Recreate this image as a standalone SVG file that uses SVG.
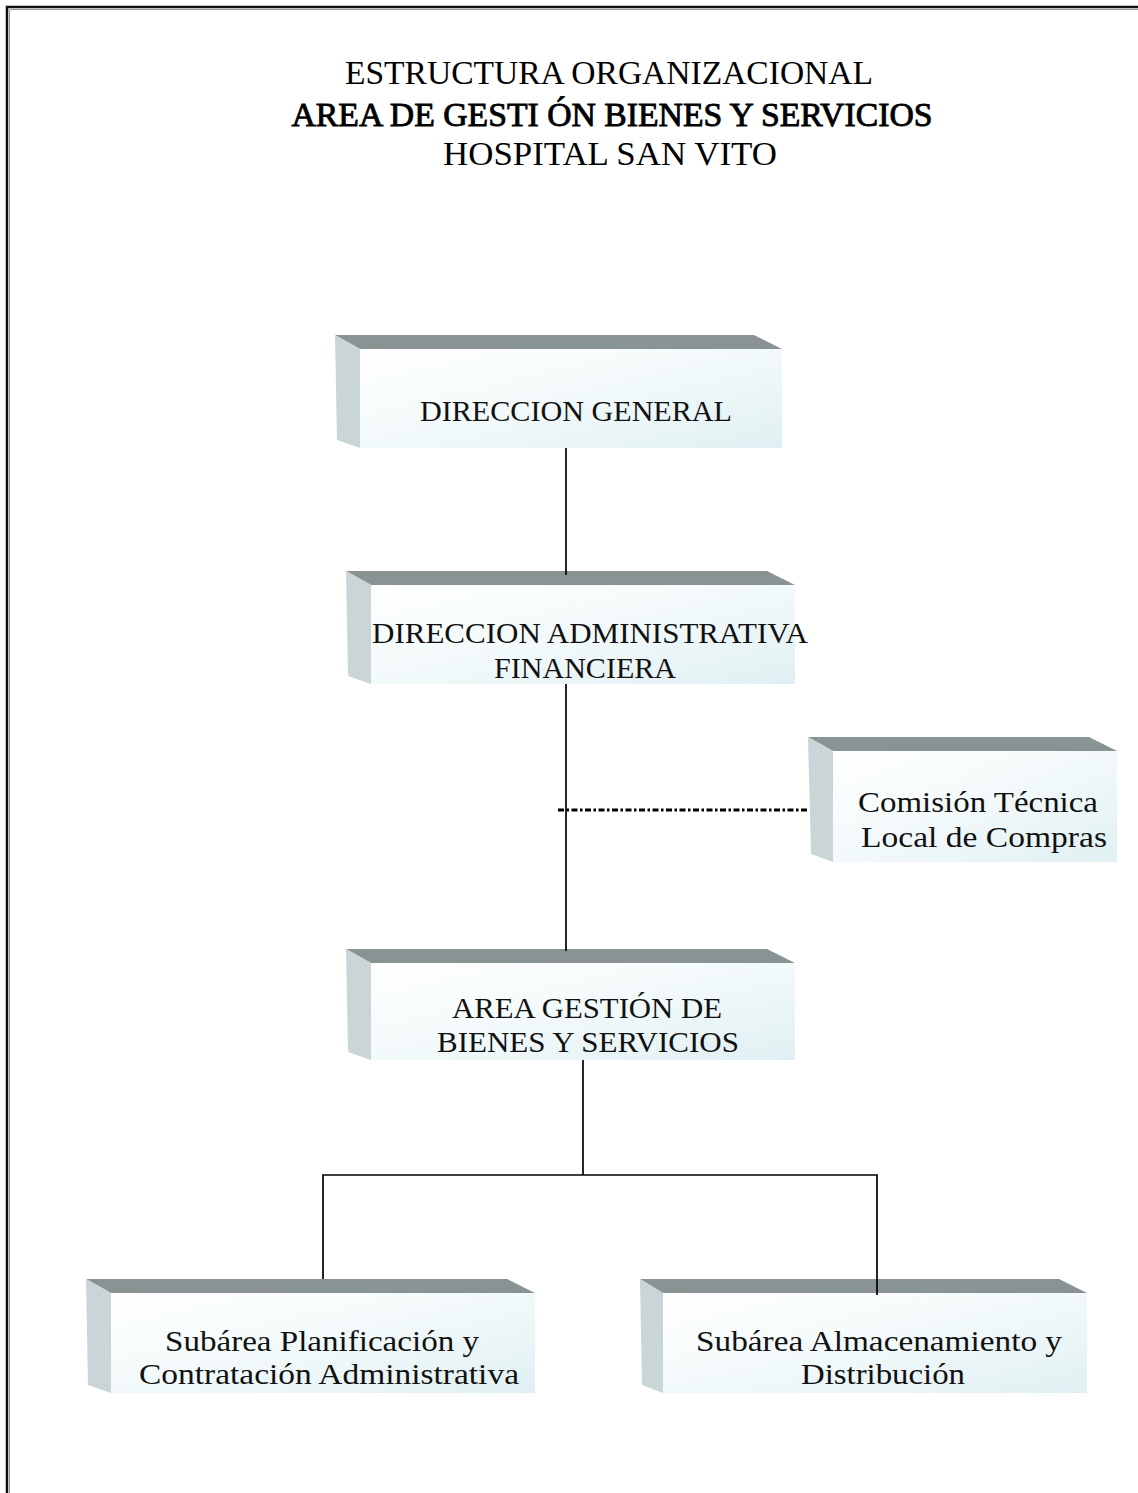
<svg xmlns="http://www.w3.org/2000/svg" width="1138" height="1493" viewBox="0 0 1138 1493">
<style>
.top{fill:#8a9393}
.side{fill:#c9d5d7}
.front{fill:url(#fg)}
.t{font-family:"Liberation Serif","Times New Roman",serif;font-size:30px;fill:#111;text-anchor:middle}
.h{font-family:"Liberation Serif","Times New Roman",serif;font-size:34px;fill:#000;text-anchor:middle}
.ln{stroke:#000;stroke-width:1.7;fill:none}
</style>
<defs>
<linearGradient id="fg" x1="0" y1="0" x2="1" y2="1">
<stop offset="0" stop-color="#ffffff"/>
<stop offset="0.45" stop-color="#f4fafb"/>
<stop offset="1" stop-color="#e0f0f2"/>
</linearGradient>
</defs>
<rect width="1138" height="1493" fill="#fff"/>
<g id="border">
<path d="M7,1493 V7 H1138" stroke="#111" stroke-width="2.5" fill="none"/>
<path d="M9.5,1493 V9.5 H1138" stroke="#999" stroke-width="1" fill="none"/>
</g>
<g id="title">
<text class="h" x="609" y="84" textLength="528" lengthAdjust="spacingAndGlyphs">ESTRUCTURA ORGANIZACIONAL</text>
<text class="h" x="612" y="126" stroke="#000" stroke-width="0.9" textLength="641" lengthAdjust="spacingAndGlyphs">AREA DE GESTI ÓN BIENES Y SERVICIOS</text>
<text class="h" x="610" y="165" textLength="334" lengthAdjust="spacingAndGlyphs">HOSPITAL SAN VITO</text>
</g>
<g id="connectors">
<line class="ln" x1="566" y1="446" x2="566" y2="575"/>
<line class="ln" x1="566" y1="684" x2="566" y2="951"/>
<line x1="558" y1="810" x2="808" y2="810" stroke="#000" stroke-width="3" stroke-dasharray="6 2.5 2.5 2.5"/>
<line class="ln" x1="583" y1="1060" x2="583" y2="1175"/>
<polyline class="ln" points="323,1279 323,1175 877,1175 877,1295"/>
</g>
<g id="n-direccion-general">
<polygon class="top" points="335,335 754,335 782,349 360,349"/>
<polygon class="side" points="335,335 360,349 360,448 337,440"/>
<rect class="front" x="360" y="349" width="422" height="99"/>
<text class="t" x="576" y="421" textLength="312" lengthAdjust="spacingAndGlyphs">DIRECCION GENERAL</text>
</g>
<g id="n-direccion-administrativa">
<polygon class="top" points="346,571 767,571 795,585 371,585"/>
<polygon class="side" points="346,571 371,585 371,684 348,676"/>
<rect class="front" x="371" y="585" width="424" height="99"/>
<text class="t" x="590" y="643" textLength="436" lengthAdjust="spacingAndGlyphs">DIRECCION ADMINISTRATIVA</text>
<text class="t" x="585" y="678" textLength="182" lengthAdjust="spacingAndGlyphs">FINANCIERA</text>
</g>
<g id="n-comision">
<polygon class="top" points="808,737 1089,737 1117,751 833,751"/>
<polygon class="side" points="808,737 833,751 833,862 811,854"/>
<rect class="front" x="833" y="751" width="284" height="111"/>
<text class="t" x="978" y="812" textLength="240" lengthAdjust="spacingAndGlyphs">Comisión Técnica</text>
<text class="t" x="984" y="847" textLength="246" lengthAdjust="spacingAndGlyphs">Local de Compras</text>
</g>
<g id="n-area-gestion">
<polygon class="top" points="346,949 767,949 795,963 371,963"/>
<polygon class="side" points="346,949 371,963 371,1060 348,1052"/>
<rect class="front" x="371" y="963" width="424" height="97"/>
<text class="t" x="587" y="1018" textLength="270" lengthAdjust="spacingAndGlyphs">AREA GESTIÓN DE</text>
<text class="t" x="588" y="1052" textLength="302" lengthAdjust="spacingAndGlyphs">BIENES Y SERVICIOS</text>
</g>
<g id="n-subarea-planificacion">
<polygon class="top" points="86,1279 507,1279 535,1293 111,1293"/>
<polygon class="side" points="86,1279 111,1293 111,1393 88,1385"/>
<rect class="front" x="111" y="1293" width="424" height="100"/>
<text class="t" x="322" y="1351" textLength="314" lengthAdjust="spacingAndGlyphs">Subárea Planificación y</text>
<text class="t" x="329" y="1384" textLength="380" lengthAdjust="spacingAndGlyphs">Contratación Administrativa</text>
</g>
<g id="n-subarea-almacenamiento">
<polygon class="top" points="640,1279 1059,1279 1087,1293 663,1293"/>
<polygon class="side" points="640,1279 663,1293 663,1393 642,1385"/>
<rect class="front" x="663" y="1293" width="424" height="100"/>
<text class="t" x="879" y="1351" textLength="366" lengthAdjust="spacingAndGlyphs">Subárea Almacenamiento y</text>
<text class="t" x="883" y="1384" textLength="164" lengthAdjust="spacingAndGlyphs">Distribución</text>
</g>
<line class="ln" x1="877" y1="1279" x2="877" y2="1295"/>
<line class="ln" x1="566" y1="571" x2="566" y2="575"/>
<line class="ln" x1="566" y1="949" x2="566" y2="951"/>
</svg>
